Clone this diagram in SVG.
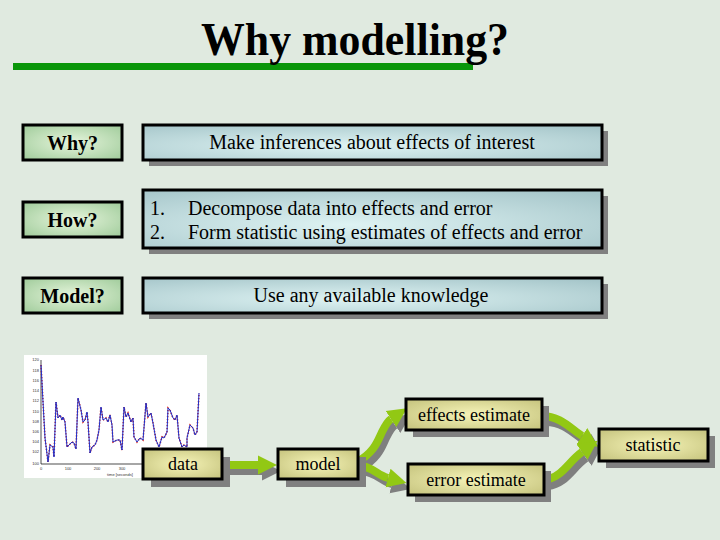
<svg xmlns="http://www.w3.org/2000/svg" width="720" height="540" viewBox="0 0 720 540">
<defs>
<radialGradient id="gGreen" cx="0.5" cy="0.5" r="0.7">
<stop offset="0" stop-color="#e6f5dc"/><stop offset="1" stop-color="#9fcb9a"/>
</radialGradient>
<radialGradient id="gBlue" cx="0.45" cy="0.6" r="0.75">
<stop offset="0" stop-color="#def3f3"/><stop offset="1" stop-color="#a6c6ca"/>
</radialGradient>
<radialGradient id="gYellow" cx="0.5" cy="0.5" r="0.7">
<stop offset="0" stop-color="#f6f4b8"/><stop offset="1" stop-color="#c4c27c"/>
</radialGradient>
<marker id="ah" viewBox="0 0 10 10" refX="0" refY="5" markerWidth="2.4" markerHeight="2.8" orient="auto" markerUnits="strokeWidth">
<path d="M0,0 L10,5 L0,10 Z" fill="#92c814"/>
</marker>
<marker id="ahs" viewBox="0 0 10 10" refX="0" refY="5" markerWidth="2.4" markerHeight="2.8" orient="auto" markerUnits="strokeWidth">
<path d="M0,0 L10,5 L0,10 Z" fill="#7f7f7f"/>
</marker>
<style>
text{font-family:"Liberation Serif","Times New Roman",serif}
.lbl{font-size:20px;font-weight:bold;fill:#000;text-anchor:middle}
.txt{font-size:20px;fill:#000}
.ftx{font-size:18px;fill:#000;text-anchor:middle}
.bx{stroke:#000;stroke-width:3}
.sh{fill:#808080}
.arr{fill:none;stroke:#92c814;stroke-width:8;marker-end:url(#ah)}
.arrs{fill:none;stroke:#7f7f7f;stroke-width:8;marker-end:url(#ahs)}
.tk text{font-family:"Liberation Sans",Arial,sans-serif;font-size:4px;fill:#333}
</style>
</defs>
<rect x="0" y="0" width="720" height="540" fill="#e0eae0"/>

<g id="title">
<rect x="13" y="63" width="460" height="7" fill="#0a960a"/>
<text x="355" y="55" font-size="46" font-weight="bold" text-anchor="middle" textLength="308" lengthAdjust="spacingAndGlyphs">Why modelling?</text>
</g>

<g id="why-label"><rect class="bx" x="23" y="125" width="99" height="35" fill="url(#gGreen)"/><text class="lbl" x="72.5" y="150">Why?</text></g>
<g id="how-label"><rect class="bx" x="23" y="202" width="99" height="35" fill="url(#gGreen)"/><text class="lbl" x="72.5" y="227">How?</text></g>
<g id="model-label"><rect class="bx" x="23" y="278" width="99" height="35" fill="url(#gGreen)"/><text class="lbl" x="72.5" y="303">Model?</text></g>

<g id="why-box">
<rect class="sh" x="149" y="131" width="459" height="35"/>
<rect class="bx" x="143" y="125" width="459" height="35" fill="url(#gBlue)"/>
<text class="txt" x="372" y="149" text-anchor="middle">Make inferences about effects of interest</text>
</g>
<g id="how-box">
<rect class="sh" x="149" y="196" width="459" height="58"/>
<rect class="bx" x="143" y="190" width="459" height="58" fill="url(#gBlue)"/>
<text class="txt" x="150" y="215">1.</text>
<text class="txt" x="188" y="215">Decompose data into effects and error</text>
<text class="txt" x="150" y="239">2.</text>
<text class="txt" x="188" y="239">Form statistic using estimates of effects and error</text>
</g>
<g id="model-box">
<rect class="sh" x="149" y="284" width="459" height="35"/>
<rect class="bx" x="143" y="278" width="459" height="35" fill="url(#gBlue)"/>
<text class="txt" x="371" y="302" text-anchor="middle">Use any available knowledge</text>
</g>

<g id="plot">
<rect x="24" y="355" width="183" height="123" fill="#ffffff"/>
<path d="M41,360 V464 H200" fill="none" stroke="#000" stroke-width="0.7"/>
<g class="tk" text-anchor="end">
<text x="39" y="361">120</text><text x="39" y="372">118</text><text x="39" y="382">116</text><text x="39" y="392">114</text><text x="39" y="402">112</text><text x="39" y="413">110</text><text x="39" y="423">108</text><text x="39" y="433">106</text><text x="39" y="443">104</text><text x="39" y="453">102</text><text x="39" y="465">100</text>
</g>
<g class="tk" text-anchor="middle">
<text x="41" y="470">0</text><text x="68" y="470">100</text><text x="97" y="470">200</text><text x="122" y="470">300</text>
<text x="120" y="476">time [seconds]</text>
</g>
<polyline fill="none" stroke="#d02020" stroke-width="1.6" stroke-dasharray="1.2 1.8" points="41,365 45,438 48,462 50,445 53,447 54,457 56,402 58,418 60,415 62,420 63,417 65,422 67,447 69,445 72,442 74,443 76,449 78,398 81,410 83,422 85,420 87,412 88,422 90,453 92,447 95,445 97,440 99,430 101,407 103,420 106,418 108,422 110,415 112,425 113,442 117,440 120,440 122,450 124,407 126,417 128,413 131,422 133,418 134,437 137,442 140,438 143,440 146,403 148,417 151,413 153,423 156,440 159,447 162,437 164,438 167,432 168,408 170,410 173,418 175,420 177,415 179,438 182,447 184,445 187,447 187,438 190,425 193,428 195,435 197,432 199,393"/>
<polyline fill="none" stroke="#2030c8" stroke-width="1" points="41,365 45,438 48,462 50,445 53,447 54,457 56,402 58,418 60,415 62,420 63,417 65,422 67,447 69,445 72,442 74,443 76,449 78,398 81,410 83,422 85,420 87,412 88,422 90,453 92,447 95,445 97,440 99,430 101,407 103,420 106,418 108,422 110,415 112,425 113,442 117,440 120,440 122,450 124,407 126,417 128,413 131,422 133,418 134,437 137,442 140,438 143,440 146,403 148,417 151,413 153,423 156,440 159,447 162,437 164,438 167,432 168,408 170,410 173,418 175,420 177,415 179,438 182,447 184,445 187,447 187,438 190,425 193,428 195,435 197,432 199,393"/>
</g>

<g id="connectors">
<g transform="translate(4,6)">
<path class="arrs" d="M225,465 H258"/>
<path class="arrs" d="M357,462 C375,452 378,440 382,432 C386,424 388,421 391,419"/>
<path class="arrs" d="M357,465 C372,466 377,475 388,478"/>
<path class="arrs" d="M542,416 C560,416 570,428 582,436"/>
<path class="arrs" d="M544,480 C562,478 568,462 582,452"/>
</g>
<path class="arr" d="M225,465 H258"/>
<path class="arr" d="M357,462 C375,452 378,440 382,432 C386,424 388,421 391,419"/>
<path class="arr" d="M357,465 C372,466 377,475 388,478"/>
<path class="arr" d="M542,416 C560,416 570,428 582,436"/>
<path class="arr" d="M544,480 C562,478 568,462 582,452"/>
</g>

<g id="data">
<rect class="sh" x="151" y="457" width="79" height="30"/>
<rect class="bx" x="143" y="449" width="79" height="30" fill="url(#gYellow)"/>
<text class="ftx" x="183" y="470">data</text>
</g>
<g id="model">
<rect class="sh" x="286" y="457" width="80" height="30"/>
<rect class="bx" x="278" y="449" width="80" height="30" fill="url(#gYellow)"/>
<text class="ftx" x="318" y="470">model</text>
</g>
<g id="effects-estimate">
<rect class="sh" x="413" y="406" width="136" height="31"/>
<rect class="bx" x="406" y="399" width="136" height="31" fill="url(#gYellow)"/>
<text class="ftx" x="474" y="421">effects estimate</text>
</g>
<g id="error-estimate">
<rect class="sh" x="415" y="471" width="136" height="31"/>
<rect class="bx" x="408" y="464" width="136" height="31" fill="url(#gYellow)"/>
<text class="ftx" x="476" y="486">error estimate</text>
</g>
<g id="statistic">
<rect class="sh" x="606" y="436" width="109" height="32"/>
<rect class="bx" x="599" y="429" width="109" height="32" fill="url(#gYellow)"/>
<text class="ftx" x="653" y="451">statistic</text>
</g>
</svg>
